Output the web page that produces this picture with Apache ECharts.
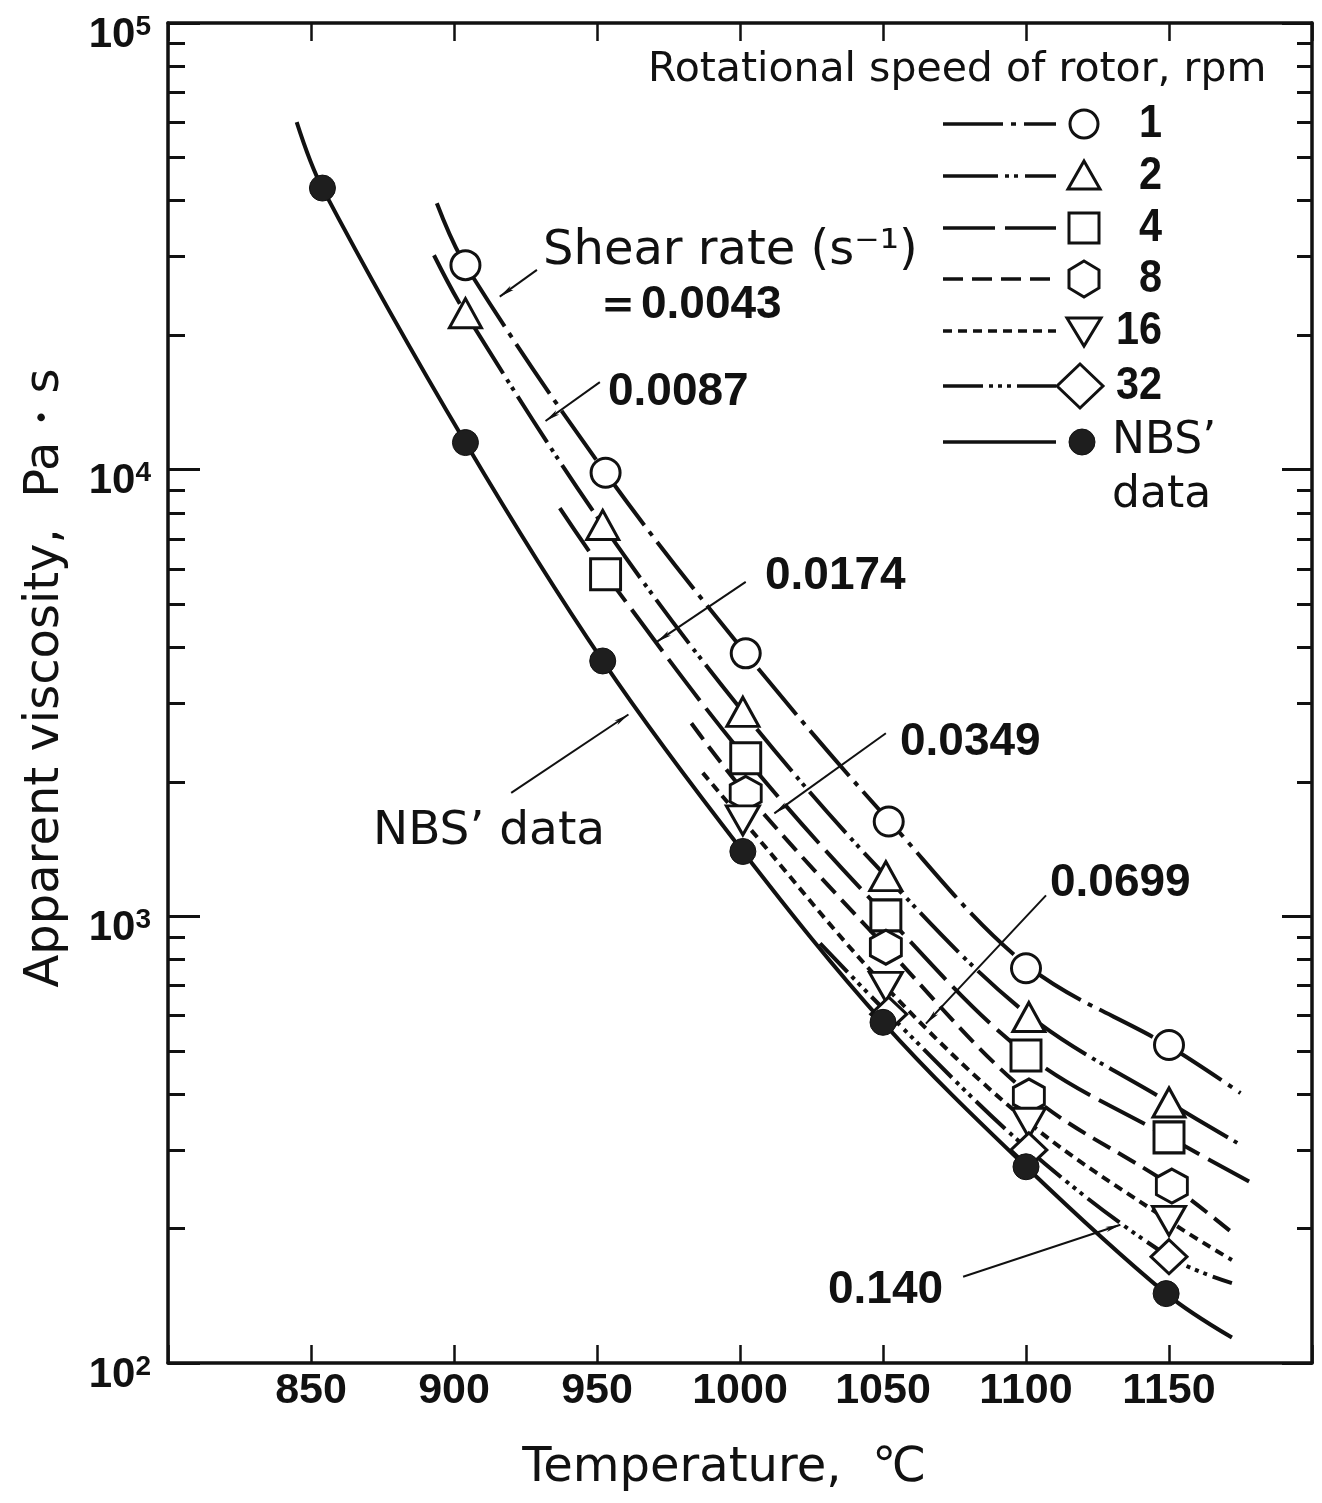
<!DOCTYPE html>
<html><head><meta charset="utf-8">
<script src="https://cdn.jsdelivr.net/npm/echarts@6/dist/echarts.min.js"></script>
<style>html,body{margin:0;padding:0;background:#fff}#c{width:1322px;height:1503px}</style>
</head><body><div id="c"></div>
<script>
// ---------- data ----------
const xTickLabels = [850, 900, 950, 1000, 1050, 1100, 1150];
const yTickValues = [100, 1000, 10000, 100000];
const yTickExponents = ['2', '3', '4', '5'];
const yMinorTickValues = [200,300,400,500,600,700,800,900,2000,3000,4000,5000,6000,7000,8000,9000,20000,30000,40000,50000,60000,70000,80000,90000];

const rpmLabels = ['1', '2', '4', '8', '16', '32'];
const shearRateLabels = ['0.0043', '0.0087', '0.0174', '0.0349', '0.0699', '0.140'];

// measured points (temperature °C, viscosity Pa·s)
const rpm1T = [904, 953, 1002, 1052, 1100, 1150];
const rpm1V = [28700, 9840, 3880, 1630, 765, 515];
const rpm2T = [904, 952, 1001, 1051, 1101, 1150];
const rpm2V = [22400, 7520, 2870, 1230, 595, 383];
const rpm4T = [953, 1002, 1051, 1100, 1150];
const rpm4V = [5830, 2260, 1005, 488, 320];
const rpm8T = [1002, 1051, 1101, 1151];
const rpm8V = [1885, 853, 396, 249];
const rpm16T = [1001, 1051, 1101, 1150];
const rpm16V = [1640, 695, 345, 208];
const rpm32T = [1052, 1101, 1150];
const rpm32V = [604, 300, 173];
const nbsT = [854, 904, 952, 1001, 1050, 1100, 1149];
const nbsV = [42700, 11500, 3730, 1397, 579, 275, 143];

// drawn curves
const curve1T = [894, 904, 953, 1002, 1052, 1100, 1150, 1175];
const curve1V = [39500, 28700, 9840, 3880, 1640, 780, 512, 402];
const curve2T = [893, 904, 952, 1001, 1051, 1101, 1150, 1175];
const curve2V = [30200, 22400, 7520, 2870, 1230, 600, 383, 308];
const curve4T = [937, 953, 1002, 1051, 1100, 1150, 1178];
const curve4V = [8200, 5830, 2260, 1005, 492, 320, 255];
const curve8T = [983, 1002, 1051, 1101, 1151, 1172];
const curve8V = [2705, 1885, 853, 400, 249, 196];
const curve16T = [987, 1001, 1051, 1101, 1150, 1172];
const curve16V = [2095, 1640, 695, 345, 208, 170];
const curve32T = [1028, 1052, 1101, 1150, 1172];
const curve32V = [870, 604, 300, 173, 151];
const curveNbsT = [845, 854, 904, 952, 1001, 1050, 1100, 1149, 1172];
const curveNbsV = [60000, 42700, 11500, 3730, 1397, 579, 275, 143, 114];

// leader arrows: [tailT, tailV, headT, headV]
const leaderArrows = [
  [929, 28000, 916, 24400],
  [951, 15700, 932, 12850],
  [1002, 5610, 971, 4120],
  [1051, 2570, 1012, 1700],
  [1107, 1114, 1065, 575],
  [1078, 156, 1133, 204],
  [920, 1890, 961, 2830]
];

// ---------- styling ----------
const INK = '#111';
const NUM_FONT = "'Liberation Sans Narrow', 'Liberation Sans', sans-serif";
const TXT_FONT = "'DejaVu Sans', 'Liberation Sans', sans-serif";
const zip = (a, b) => a.map((v, i) => [v, b[i]]);

const dash = {
  r1: [60, 8, 5, 8],
  r2: [55, 7, 4, 5, 4, 7],
  r4: [52, 10],
  r8: [20, 9],
  r16: [9, 6],
  r32: [40, 6, 4, 5, 4, 5, 4, 6]
};
const HEX = 'path://M50,0 L100,25 L100,75 L50,100 L0,75 L0,25 Z';

function curve(name, t, v, type, extra) {
  return Object.assign({
    name, type: 'line', data: zip(t, v), xAxisIndex: 0, yAxisIndex: 0,
    showSymbol: false, symbol: 'none', smooth: 0.35, silent: true, z: 2,
    lineStyle: { color: INK, width: 4, type: type || 'solid', opacity: 1 }
  }, extra || {});
}
function marks(name, t, v, symbol, size, rotate, filled) {
  return {
    name, type: 'scatter', data: zip(t, v), xAxisIndex: 0, yAxisIndex: 0,
    symbol, symbolSize: size, symbolRotate: rotate || 0, silent: true, z: filled ? 6 : 5,
    itemStyle: filled ? { color: '#1e1e1e', borderColor: INK, borderWidth: 1, opacity: 1 }
                      : { color: '#fff', borderColor: INK, borderWidth: 3, opacity: 1 }
  };
}

const series = [
  curve('1 rpm line', curve1T, curve1V, dash.r1),
  curve('2 rpm line', curve2T, curve2V, dash.r2),
  curve('4 rpm line', curve4T, curve4V, dash.r4),
  curve('8 rpm line', curve8T, curve8V, dash.r8),
  curve('16 rpm line', curve16T, curve16V, dash.r16),
  curve('32 rpm line', curve32T, curve32V, dash.r32),
  curve("NBS' line", curveNbsT, curveNbsV, 'solid', {
    markLine: {
      silent: true, animation: false, symbol: ['none', 'arrow'], symbolSize: [4, 15],
      label: { show: false }, lineStyle: { color: INK, width: 2, type: 'solid', opacity: 1 },
      emphasis: { disabled: true },
      data: leaderArrows.map(a => [{ coord: [a[0], a[1]] }, { coord: [a[2], a[3]] }])
    }
  }),
  marks('1 rpm', rpm1T, rpm1V, 'circle', 29),
  marks('2 rpm', rpm2T, rpm2V, 'triangle', [32, 29]),
  marks('4 rpm', rpm4T, rpm4V, 'rect', [30, 31]),
  marks('8 rpm', rpm8T, rpm8V, HEX, [31, 34]),
  marks('16 rpm', rpm16T, rpm16V, 'triangle', [33, 29], 180),
  marks('32 rpm', rpm32T, rpm32V, 'diamond', [36, 34]),
  marks("NBS' data", nbsT, nbsV, 'circle', 26, 0, true)
];

const axisLine = { show: true, onZero: false, lineStyle: { color: INK, width: 3.5 } };

// ---------- legend (drawn block, top right) ----------
const legendRows = [124, 176, 228, 279, 331, 386, 442];
const legendDash = [dash.r1, dash.r2, dash.r4, dash.r8, dash.r16, dash.r32, null];
const LX1 = 943, LX2 = 1056, MX = 1084;
const graphics = [];
legendRows.forEach((y, i) => {
  graphics.push({ type: 'line', shape: { x1: LX1, y1: y, x2: LX2, y2: y },
    style: { stroke: INK, lineWidth: 3.5, lineDash: legendDash[i] || null }, silent: true });
});
const mk = { fill: '#fff', stroke: INK, lineWidth: 3 };
let y;
y = legendRows[0]; graphics.push({ type: 'circle', shape: { cx: MX, cy: y, r: 14 }, style: mk });
y = legendRows[1]; graphics.push({ type: 'polygon', shape: { points: [[MX, y - 15], [MX - 16, y + 13], [MX + 16, y + 13]] }, style: mk });
y = legendRows[2]; graphics.push({ type: 'rect', shape: { x: MX - 15, y: y - 15, width: 30, height: 30 }, style: mk });
y = legendRows[3]; graphics.push({ type: 'polygon', shape: { points: [[MX, y - 18], [MX + 15, y - 9], [MX + 15, y + 9], [MX, y + 18], [MX - 15, y + 9], [MX - 15, y - 9]] }, style: mk });
y = legendRows[4]; graphics.push({ type: 'polygon', shape: { points: [[MX - 17, y - 13], [MX + 17, y - 13], [MX, y + 15]] }, style: mk });
y = legendRows[5]; graphics.push({ type: 'polygon', shape: { points: [[MX - 4, y - 22], [MX + 19, y], [MX - 4, y + 22], [MX - 27, y]] }, style: mk });
y = legendRows[6]; graphics.push({ type: 'circle', shape: { cx: MX - 2, cy: y, r: 13 }, style: { fill: '#1e1e1e', stroke: INK, lineWidth: 1 } });

rpmLabels.forEach((lab, i) => {
  graphics.push({ type: 'text', x: 1162, y: legendRows[i], scaleX: 0.9, originX: 0,
    style: { text: lab, fill: INK, font: "bold 46px " + NUM_FONT, align: 'right', verticalAlign: 'middle' }, silent: true });
});
graphics.push({ type: 'text', x: 1112, y: legendRows[6], style: { text: 'NBS’', fill: INK, font: '44px ' + TXT_FONT, align: 'left', verticalAlign: 'middle' } });
graphics.push({ type: 'text', x: 1112, y: 496, style: { text: 'data', fill: INK, font: '44px ' + TXT_FONT, align: 'left', verticalAlign: 'middle' } });
graphics.push({ type: 'text', x: 648, y: 70, style: { text: 'Rotational speed of rotor, rpm', fill: INK, font: '41px ' + TXT_FONT, align: 'left', verticalAlign: 'middle' } });

// ---------- annotations ----------
graphics.push({ type: 'text', x: 543, y: 252, style: { text: 'Shear rate (s⁻¹)', fill: INK, font: '48px ' + TXT_FONT, align: 'left', verticalAlign: 'middle' } });
const shearPos = [[595, 305], [608, 392], [765, 576], [900, 742], [1050, 883], [828, 1290]];
shearRateLabels.forEach((lab, i) => {
  graphics.push({ type: 'text', x: shearPos[i][0], y: shearPos[i][1],
    style: { text: (i === 0 ? '＝' : '') + lab, fill: INK, font: "bold 46px " + NUM_FONT, align: 'left', verticalAlign: 'middle' } });
});
graphics.push({ type: 'text', x: 373, y: 832, style: { text: 'NBS’ data', fill: INK, font: '47px ' + TXT_FONT, align: 'left', verticalAlign: 'middle' } });

const option = {
  animation: false,
  backgroundColor: '#fff',
  grid: { left: 168, right: 10, top: 23, bottom: 140, containLabel: false },
  xAxis: [
    { type: 'value', min: 800, max: 1200, interval: 50, position: 'bottom',
      axisLine, axisTick: { show: true, inside: true, length: 18, lineStyle: { color: INK, width: 2.5 } },
      axisLabel: { margin: 7, color: INK, fontFamily: NUM_FONT, fontWeight: 'bold', fontSize: 43,
        formatter: v => xTickLabels.indexOf(v) >= 0 ? String(v) : '' },
      splitLine: { show: false },
      name: 'Temperature,  ℃', nameLocation: 'middle', nameGap: 82,
      nameTextStyle: { color: INK, fontFamily: TXT_FONT, fontSize: 48, padding: [0, 32, 0, 0] } },
    { type: 'value', min: 800, max: 1200, interval: 50, position: 'top',
      axisLine, axisTick: { show: true, inside: true, length: 18, lineStyle: { color: INK, width: 2.5 } },
      axisLabel: { show: false }, splitLine: { show: false } }
  ],
  yAxis: [
    { type: 'log', logBase: 10, min: 100, max: 100000, position: 'left',
      axisLine, axisTick: { show: true, inside: true, length: 32, lineStyle: { color: INK, width: 3 } },
      axisLabel: { margin: 17, color: INK, padding: [24, 0, 0, 0],
        formatter: v => { const k = yTickValues.indexOf(Math.round(v)); return k < 0 ? '' : '{b|10}{s|' + yTickExponents[k] + '}'; },
        rich: { b: { fontFamily: NUM_FONT, fontWeight: 'bold', fontSize: 42, lineHeight: 44, color: INK },
                s: { fontFamily: NUM_FONT, fontWeight: 'bold', fontSize: 28, lineHeight: 18, verticalAlign: 'top', color: INK } } },
      splitLine: { show: false },
      name: 'Apparent viscosity,  Pa・s', nameLocation: 'middle', nameRotate: 90, nameGap: 98,
      nameTextStyle: { color: INK, fontFamily: TXT_FONT, fontSize: 48, padding: [0, 0, 0, 30] } },
    { type: 'log', logBase: 10, min: 100, max: 100000, position: 'left',
      axisLine: { show: false }, axisLabel: { show: false }, splitLine: { show: false },
      axisTick: { show: true, inside: true, length: 17, customValues: yMinorTickValues, lineStyle: { color: INK, width: 3 } } },
    { type: 'log', logBase: 10, min: 100, max: 100000, position: 'right',
      axisLine, axisLabel: { show: false }, splitLine: { show: false },
      axisTick: { show: true, inside: true, length: 30, lineStyle: { color: INK, width: 3 } } },
    { type: 'log', logBase: 10, min: 100, max: 100000, position: 'right',
      axisLine: { show: false }, axisLabel: { show: false }, splitLine: { show: false },
      axisTick: { show: true, inside: true, length: 15, customValues: yMinorTickValues, lineStyle: { color: INK, width: 3 } } }
  ],
  series,
  graphic: graphics
};

const chart = echarts.init(document.getElementById('c'), null, { renderer: 'canvas' });
chart.setOption(option);
</script></body></html>
